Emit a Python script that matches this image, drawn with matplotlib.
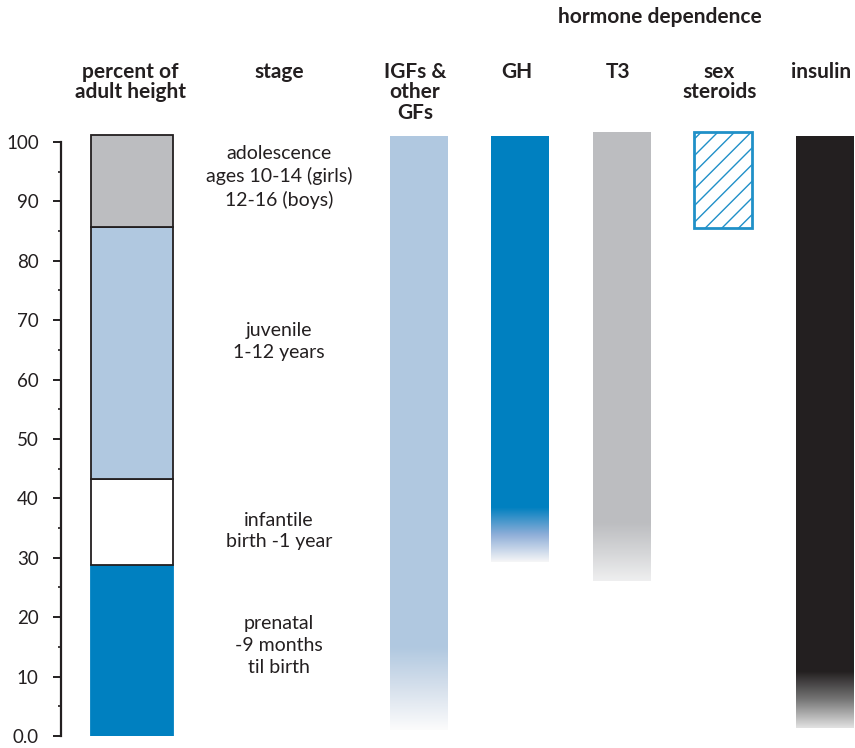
import numpy as np
import matplotlib
matplotlib.use("Agg")
import matplotlib.pyplot as plt
from matplotlib.colors import LinearSegmentedColormap

# ---- data -------------------------------------------------------------
stage_names = ["prenatal\n-9 months\ntil birth", "infantile\nbirth -1 year",
               "juvenile\n1-12 years",
               "adolescence\nages 10-14 (girls)\n12-16 (boys)"]
stage_bounds = [0, 28.8, 43.3, 85.6, 101.1]      # percent of adult height
stage_label_y = [15.2, 34.5, 66.4, 94.1]
stage_colors = ["#0080c0", "#ffffff", "#b0c8e0", "#bcbdc0"]

hormones = ["IGFs &\nother\nGFs", "GH", "T3", "sex\nsteroids", "insulin"]
h_top = [101.0, 101.0, 101.6, 101.6, 101.0]       # top of dependence bar
h_solid_low = [15.0, 38.5, 36.0, 85.5, 10.8]      # where solid colour ends
h_fade_low = [1.0, 29.3, 26.1, 85.5, 1.3]         # where fade ends
h_colors = ["#b0c8e0", "#0080c0", "#bcbdc0", "#2090c8", "#231f20"]
h_fade_mid = ["#d6e0ec", "#8eaed8", "#d4d5d7", None, "#767676"]
h_fade_end = ["#fcfcfc", "#f6f6f7", "#efeff0", None, "#e2e2e2"]
h_hatched = [False, False, False, True, False]

# ---- layout -----------------------------------------------------------
height_x = 0.17
stage_x = 1.62
hormone_x = np.arange(3, 3 + len(hormones))
ink = "#231f20"
hdr_font = ["Lato", "DejaVu Sans"]
txt_font = ["Lato", "Open Sans", "DejaVu Sans"]

plt.rcParams["hatch.linewidth"] = 1.0

fig = plt.figure(figsize=(8.55, 7.48), dpi=100)
ax = fig.add_axes([61 / 855, 12 / 748, 794 / 855, 606 / 748])

# stacked column of growth stages
for i, col in enumerate(stage_colors):
    lo, hi = stage_bounds[i], stage_bounds[i + 1]
    edge = col if i == 0 else ink
    ax.bar(height_x, hi - lo, bottom=lo, width=0.808, color=col,
           edgecolor=edge, linewidth=1.3, zorder=2)
    ax.text(stage_x, stage_label_y[i], stage_names[i], ha="center",
            va="center", fontsize=14, family=txt_font, color=ink,
            linespacing=1.35)

# hormone dependence columns
w = 0.571
for x, top, s_lo, f_lo, col, mid, end, hat in zip(
        hormone_x, h_top, h_solid_low, h_fade_low, h_colors,
        h_fade_mid, h_fade_end, h_hatched):
    if hat:
        ax.bar(x, top - s_lo, bottom=s_lo, width=w, color="white",
               edgecolor=col, hatch="//", linewidth=2, zorder=2)
        continue
    ax.bar(x, top - s_lo, bottom=s_lo, width=w, color=col, linewidth=0,
           zorder=2)
    cmap = LinearSegmentedColormap.from_list("fade", [end, mid, col])
    grad = np.linspace(0, 1, 200).reshape(-1, 1)
    ax.imshow(grad, cmap=cmap, extent=[x - w / 2, x + w / 2, f_lo, s_lo],
              origin="lower", aspect="auto", interpolation="bilinear",
              zorder=2)

ax.set_xlim(-0.527, 7.296)
ax.set_ylim(0, 102)

# axis styling
for side in ["top", "right", "bottom"]:
    ax.spines[side].set_visible(False)
ax.spines["left"].set_bounds(0, 100)
ax.spines["left"].set_linewidth(1.6)
ax.spines["left"].set_color(ink)
ax.set_xticks([])
ax.set_yticks(np.arange(0, 101, 10))
ax.set_yticklabels(["0.0"] + [str(v) for v in range(10, 101, 10)])
ax.set_yticks(np.arange(5, 100, 10), minor=True)
ax.tick_params(axis="y", which="major", length=6, width=1.4, color=ink,
               labelsize=13.5, labelcolor=ink, pad=10)
ax.tick_params(axis="y", which="minor", length=2.5, width=1.2, color=ink)
for lbl in ax.get_yticklabels():
    lbl.set_family(txt_font)

# headers
hdr_y = 113.5
hdr = dict(ha="center", va="top", fontsize=15, fontweight="bold",
           family=hdr_font, color=ink, linespacing=1.05, clip_on=False)
ax.text(height_x - 0.01, hdr_y, "percent of\nadult height", **hdr)
ax.text(stage_x, hdr_y, "stage", **hdr)
for x, name in zip(hormone_x, hormones):
    ax.text(x - 0.04, hdr_y, name, **hdr)
ax.text(5.37, 122.7, "hormone dependence", **hdr)

fig.savefig("out.png", dpi=100)
